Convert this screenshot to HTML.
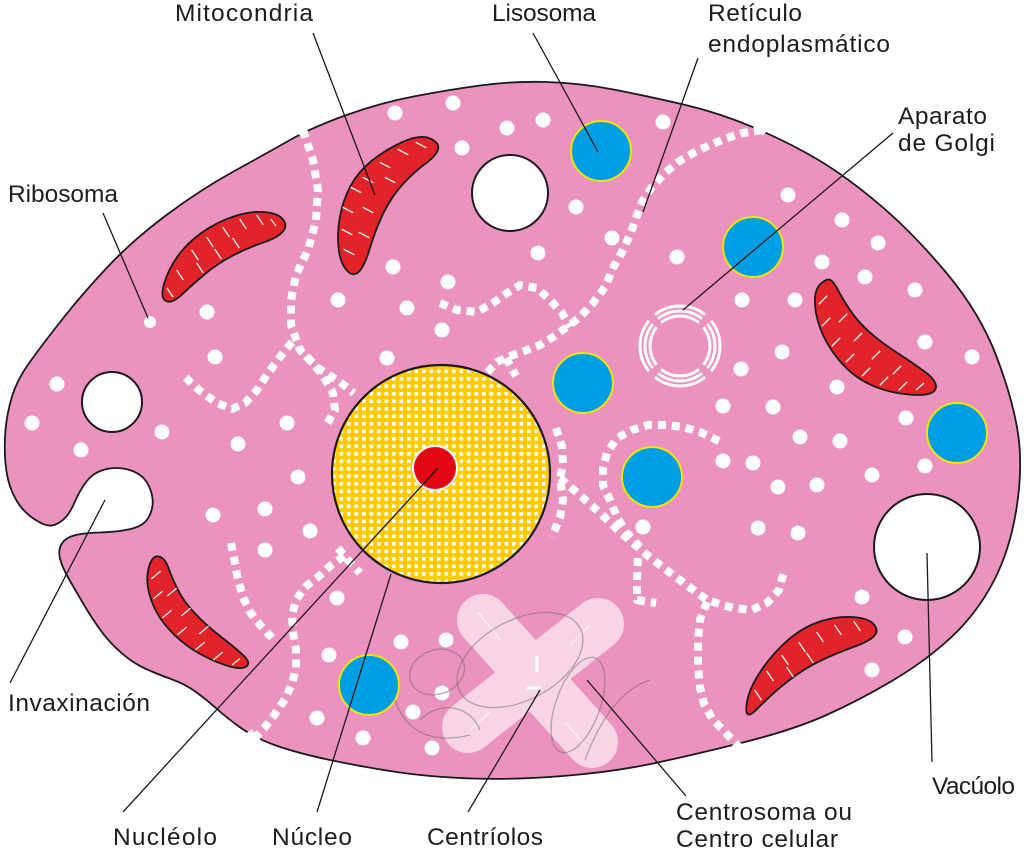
<!DOCTYPE html>
<html><head><meta charset="utf-8">
<style>html,body{margin:0;padding:0;background:#fff}svg{display:block}</style>
</head><body>
<svg width="1024" height="851" viewBox="0 0 1024 851" xmlns="http://www.w3.org/2000/svg">
<defs>
<pattern id="dots" width="7.5" height="7.5" patternUnits="userSpaceOnUse">
<rect width="7.5" height="7.5" fill="#FFCB05"/>
<rect x="2" y="2" width="3.6" height="3.6" fill="#fff"/>
</pattern>
</defs>

<!-- Cell -->
<path d="M29.5,362.5 Q42,345 62.5,319 Q83,293 108,266.5 Q133,240 166.5,215 Q200,190 233.5,171.5 Q267,153 290,140 Q313,127 346.5,115 Q380,103 413.5,96.5 Q447,90 480,85.5 Q513,81 546.5,82 Q580,83 613.5,89.5 Q647,96 683.5,104.5 Q720,113 755,128 Q790,143 818.5,160 Q847,177 880,205 Q913,233 946.5,273 Q980,313 996.5,356.5 Q1013,400 1018,433.5 Q1023,467 1016.5,508.5 Q1010,550 993.5,581.5 Q977,613 952,636.5 Q927,660 893.5,680 Q860,700 826.5,715 Q793,730 743,742.5 Q693,755 653,763.5 Q613,772 563,776 Q513,780 471.5,778.5 Q430,777 396.5,772 Q363,767 330,760 Q297,753 276,745.5 Q255,738 241,728 Q227,718 217,709 Q207,700 196,692 Q185,684 171,679 Q157,674 145,668.5 Q133,663 121.5,653 Q110,643 101.5,631.5 Q93,620 85,606.5 Q77,593 69.5,580 Q62,567 60,558.5 Q58,550 61.5,544 Q65,538 74,535.5 Q83,533 100,532.5 Q117,532 128.5,529.5 Q140,527 145,522 Q150,517 152,508.5 Q154,500 150.5,490 Q147,480 140,475 Q133,470 123,468.5 Q113,467 103,470 Q93,473 86.5,481.5 Q80,490 75,501.5 Q70,513 65,518 Q60,523 54,525 Q48,527 39,522 Q30,517 23.5,510 Q17,503 12,491.5 Q7,480 5.5,463.5 Q4,447 5.5,430 Q7,413 12,396.5 Q17,380 29.5,362.5 Z" fill="#EC92BE" stroke="#1a1a1a" stroke-width="1.8"/>

<!-- membrane gaps -->
<g stroke="#fff" stroke-width="9" fill="none">
<path d="M298,121 L304,134"/>
<path d="M756,124 L766,132"/>
<path d="M248,732 L258,744"/>
</g>

<!-- Endoplasmic reticulum -->
<g fill="none" stroke="#fff" stroke-width="8" stroke-dasharray="8 6" stroke-linejoin="round">
<path d="M303,130 L313,160 L318,190 L316,220 L308,250 L296,275 L291,300 L291,325 L300,350 L318,368 L340,382 L354,393"/>
<path d="M306,356 L322,374 L333,393 L335,410 L327,424"/>
<path d="M292,342 L280,357 L268,373 L257,390 L245,403 L232,409 L217,403 L200,391 L185,377"/>
<path d="M762,130 L743,133 L727,138 L710,145 L693,153 L678,162 L665,173 L652,187 L642,202 L636,218 L630,235 L622,252 L613,268 L605,287 L593,303 L580,317 L567,327 L553,337 L540,345 L527,350 L510,356 L497,362 L486,374"/>
<path d="M506,358 L516,376"/>
<path d="M440,303 L457,310 L477,312 L493,303 L507,293 L520,285 L537,288 L550,300 L562,313 L570,327"/>
<path d="M556,428 L562,447 L563,465 L560,478 L563,500 L560,517 L552,537"/>
<path d="M560,478 L582,497 L600,513 L620,532 L647,555 L673,575 L688,586 L707,600 L733,608 L752,610 L767,603 L779,590 L784,571"/>
<path d="M719,441 L700,432 L683,427 L667,425 L648,425 L632,430 L617,438 L607,453 L603,468 L603,485 L610,500 L617,517 L627,533 L640,547"/>
<path d="M638,558 L637,578 L637,600 L656,603"/>
<path d="M707,602 L700,620 L698,640 L698,667 L700,687 L704,704 L713,720 L724,731 L740,748"/>
<path d="M231,543 L235,563 L238,580 L243,597 L250,612 L260,625 L273,639"/>
<path d="M338,548 L348,560 L360,573"/>
<path d="M344,556 L330,566 L318,577 L305,587 L296,600 L292,615 L293,632 L296,650 L296,668 L292,684 L285,699 L275,714 L265,727 L255,738"/>
</g>

<!-- Ribosomes -->
<g fill="#fff">
<circle cx="150" cy="322" r="6"/>
<circle cx="207" cy="312" r="7.5"/><circle cx="215" cy="357" r="7.5"/><circle cx="338" cy="300" r="7.5"/>
<circle cx="387" cy="358" r="7.5"/><circle cx="57" cy="384" r="7.5"/><circle cx="32" cy="423" r="7.5"/>
<circle cx="162" cy="432" r="7.5"/><circle cx="287" cy="423" r="7.5"/><circle cx="393" cy="267" r="7.5"/>
<circle cx="395" cy="113" r="7.5"/><circle cx="238" cy="444" r="7.5"/><circle cx="81" cy="450" r="7.5"/>
<circle cx="298" cy="477" r="7.5"/><circle cx="213" cy="515" r="7.5"/><circle cx="265" cy="509" r="7.5"/>
<circle cx="310" cy="531" r="7.5"/><circle cx="265" cy="550" r="7.5"/><circle cx="337" cy="598" r="7.5"/>
<circle cx="329" cy="655" r="7.5"/><circle cx="317" cy="718" r="7.5"/><circle cx="401" cy="642" r="7.5"/>
<circle cx="446" cy="640" r="7.5"/><circle cx="442" cy="693" r="7.5"/><circle cx="413" cy="712" r="7.5"/>
<circle cx="363" cy="738" r="7.5"/><circle cx="432" cy="748" r="7.5"/><circle cx="453" cy="103" r="7.5"/>
<circle cx="507" cy="128" r="7.5"/><circle cx="543" cy="120" r="7.5"/><circle cx="462" cy="148" r="7.5"/>
<circle cx="663" cy="122" r="7.5"/><circle cx="576" cy="207" r="7.5"/><circle cx="612" cy="238" r="7.5"/>
<circle cx="538" cy="253" r="7.5"/><circle cx="677" cy="257" r="7.5"/><circle cx="448" cy="282" r="7.5"/>
<circle cx="407" cy="308" r="7.5"/><circle cx="442" cy="330" r="7.5"/><circle cx="788" cy="195" r="7.5"/>
<circle cx="842" cy="220" r="7.5"/><circle cx="878" cy="243" r="7.5"/><circle cx="822" cy="262" r="7.5"/>
<circle cx="865" cy="277" r="7.5"/><circle cx="915" cy="290" r="7.5"/><circle cx="742" cy="300" r="7.5"/>
<circle cx="795" cy="300" r="7.5"/><circle cx="925" cy="342" r="7.5"/><circle cx="972" cy="357" r="7.5"/>
<circle cx="782" cy="352" r="7.5"/><circle cx="741" cy="369" r="7.5"/><circle cx="837" cy="387" r="7.5"/>
<circle cx="723" cy="406" r="7.5"/><circle cx="773" cy="407" r="7.5"/><circle cx="906" cy="418" r="7.5"/>
<circle cx="800" cy="437" r="7.5"/><circle cx="840" cy="441" r="7.5"/><circle cx="723" cy="461" r="7.5"/>
<circle cx="753" cy="463" r="7.5"/><circle cx="925" cy="466" r="7.5"/><circle cx="778" cy="487" r="7.5"/>
<circle cx="817" cy="485" r="7.5"/><circle cx="872" cy="475" r="7.5"/><circle cx="643" cy="527" r="7.5"/>
<circle cx="758" cy="528" r="7.5"/><circle cx="798" cy="533" r="7.5"/><circle cx="862" cy="597" r="7.5"/>
<circle cx="905" cy="637" r="7.5"/><circle cx="872" cy="670" r="7.5"/>
</g>

<!-- Vacuoles -->
<g fill="#fff" stroke="#1a1a1a" stroke-width="2">
<circle cx="510" cy="193" r="38"/>
<circle cx="112" cy="402" r="30"/>
<circle cx="927" cy="547" r="53"/>
</g>

<!-- Lysosomes -->
<g fill="#009FE3" stroke="#F2E500" stroke-width="2">
<circle cx="601" cy="151" r="30"/>
<circle cx="753" cy="247" r="30"/>
<circle cx="583" cy="383" r="30"/>
<circle cx="652" cy="477" r="30"/>
<circle cx="957" cy="433" r="30"/>
<circle cx="369" cy="685" r="30"/>
</g>

<!-- Mitochondria -->
<g fill="#E2232A" stroke="#1a1a1a" stroke-width="1.8">
<path d="M164,284 Q168,270 177.5,256.5 Q187,243 202,232.5 Q217,222 233.5,216.5 Q250,211 264,212 Q278,213 283,219.5 Q288,226 282.5,232 Q277,238 262,243 Q247,248 232,256 Q217,264 205,274 Q193,284 182.5,294 Q172,304 166,301 Q160,298 164,284 Z"/>
<path d="M430,138.5 Q420,134 402.5,142 Q385,150 371.5,161 Q358,172 350.5,186 Q343,200 340,216.5 Q337,233 338.5,247.5 Q340,262 346,269.5 Q352,277 358,272.5 Q364,268 370,248 Q376,228 384,212 Q392,196 403,184 Q414,172 425,164 Q436,156 438,149.5 Q440,143 430,138.5 Z"/>
<path d="M820.5,284 Q814,290 815,305 Q816,320 823,335 Q830,350 841,362.5 Q852,375 866,382.5 Q880,390 897.5,393 Q915,396 925.5,394.5 Q936,393 936,386.5 Q936,380 924.5,371.5 Q913,363 897.5,353 Q882,343 870,332.5 Q858,322 850,310 Q842,298 838,290 Q834,282 830.5,280 Q827,278 820.5,284 Z"/>
<path d="M149.5,565 Q146,575 148,587.5 Q150,600 156.5,612 Q163,624 175,635.5 Q187,647 202,655 Q217,663 230,666.5 Q243,670 247,666 Q251,662 242,654 Q233,646 220,636 Q207,626 195.5,614 Q184,602 178,590 Q172,578 168.5,568 Q165,558 159,556.5 Q153,555 149.5,565 Z"/>
<path d="M747.5,699.5 Q750,687 761.5,670 Q773,653 788,640 Q803,627 820,621.5 Q837,616 852.5,617 Q868,618 873.5,624 Q879,630 874.5,635.5 Q870,641 853.5,647 Q837,653 822,660 Q807,667 793.5,677 Q780,687 770,696.5 Q760,706 755,711 Q750,716 747.5,714 Q745,712 747.5,699.5 Z"/>
</g>
<g stroke="#FFEDE6" stroke-width="1.4" fill="none">
<path d="M176.7,270 L183.3,280 M191.7,250 L198.3,260 M206.7,237 L213.3,247 M222.7,227 L229.3,237 M239.7,219 L246.3,229 M256.7,215 L263.3,225 M270.7,219 L276,226 M196.7,263 L203.3,273 M214.7,249 L221.3,259 M232.7,238 L239.3,248 M167,288 L173,297"/>
<path d="M350.7,187.2 L361.3,192.8 M342.7,207.2 L353.3,212.8 M341.7,229.2 L352.3,234.8 M343.7,249.2 L354.3,254.8 M362.7,177.2 L373.3,182.8 M379.7,162.2 L390.3,167.8 M397.7,149.2 L408.3,154.8 M415.7,142.2 L426.3,147.8 M362.7,207.2 L373.3,212.8 M358.7,232.2 L369.3,237.8 M384.7,177.2 L395.3,182.8"/>
<path d="M818.8,304.2 L827.2,295.8 M821.8,326.2 L830.2,317.8 M831.8,346.2 L840.2,337.8 M845.8,362.2 L854.2,353.8 M861.8,376.2 L870.2,367.8 M879.8,385.2 L888.2,376.8 M898.8,390.2 L907.2,381.8 M916,390 L924,383 M838.8,322.2 L847.2,313.8 M853.8,341.2 L862.2,332.8 M871.8,359.2 L880.2,350.8 M892.8,374.2 L901.2,365.8"/>
<path d="M151.4,578.9 L160.6,571.1 M153.4,598.9 L162.6,591.1 M162.4,617.9 L171.6,610.1 M177.4,634.9 L186.6,627.1 M195.4,649.9 L204.6,642.1 M213.4,659.9 L222.6,652.1 M232,665 L240,658.5 M167.4,595.9 L176.6,588.1 M181.4,615.9 L190.6,608.1 M199.4,633.9 L208.6,626.1"/>
<path d="M754.6,690 L761.4,700 M766.6,671 L773.4,681 M781.6,655 L788.4,665 M798.6,642 L805.4,652 M816.6,632 L823.4,642 M834.6,625 L841.4,635 M853.6,621 L860.4,631 M786.6,667 L793.4,677 M806.6,653 L813.4,663"/>
</g>

<!-- Nucleus -->
<circle cx="441" cy="474" r="109" fill="url(#dots)" stroke="#1a1a1a" stroke-width="2.2"/>
<circle cx="435" cy="468" r="22" fill="#E30613" stroke="#fff" stroke-width="2"/>

<!-- Golgi -->
<g fill="none" stroke="#fff" stroke-width="3">
<circle cx="680" cy="346" r="30" pathLength="360" stroke-dasharray="78 12" stroke-dashoffset="39"/>
<circle cx="680" cy="346" r="35" pathLength="360" stroke-dasharray="78 12" stroke-dashoffset="39"/>
<circle cx="680" cy="346" r="40" pathLength="360" stroke-dasharray="78 12" stroke-dashoffset="39"/>
</g>

<!-- Centrosome -->
<path d="M483,620 L592,742 M598,624 L468,727" stroke="#F8D5E5" stroke-width="52" stroke-linecap="round" fill="none"/>
<path d="M537,656 V672 M527,688 H541" stroke="#fff" stroke-width="3" fill="none"/>
<g fill="none" stroke="#fff" stroke-opacity="0.7" stroke-width="1.2">
<path d="M478,612 L500,640 M590,625 L570,645 M470,730 L490,712 M585,745 L565,722"/>
</g>
<g fill="none" stroke="#6b6b6b" stroke-opacity="0.5" stroke-width="1.3">
<ellipse cx="437" cy="672" rx="28" ry="22" transform="rotate(-20 437 672)"/>
<ellipse cx="520" cy="660" rx="68" ry="40" transform="rotate(-28 520 660)"/>
<ellipse cx="578" cy="705" rx="22" ry="50" transform="rotate(20 578 705)"/>
<path d="M585,760 C600,720 620,690 650,680"/>
<path d="M395,700 C405,730 430,745 470,735"/>
<path d="M420,720 C440,700 470,705 480,730"/>
</g>

<!-- Connector lines -->
<g stroke="#1a1a1a" stroke-width="1.3" fill="none">
<path d="M313,33 L375,195"/>
<path d="M533,33 L598,152"/>
<path d="M698,58 L643,212"/>
<path d="M893,133 L683,310"/>
<path d="M103,213 L148,318"/>
<path d="M105,500 L10,683"/>
<path d="M438,468 L123,812"/>
<path d="M391,574 L317,812"/>
<path d="M540,690 L468,812"/>
<path d="M587,680 L686,796"/>
<path d="M927,553 L932,762"/>
</g>

<!-- Labels -->
<g font-family="'Liberation Sans', Arial, sans-serif" font-size="24.5" fill="#1d1d1b">
<text x="175" y="21" textLength="138" lengthAdjust="spacing">Mitocondria</text>
<text x="492" y="21" textLength="104" lengthAdjust="spacing">Lisosoma</text>
<text x="708" y="21" textLength="94" lengthAdjust="spacing">Retículo</text>
<text x="708" y="52" textLength="182" lengthAdjust="spacing">endoplasmático</text>
<text x="898" y="124" textLength="89" lengthAdjust="spacing">Aparato</text>
<text x="898" y="151" textLength="97" lengthAdjust="spacing">de Golgi</text>
<text x="8" y="202" textLength="110" lengthAdjust="spacing">Ribosoma</text>
<text x="8" y="711" textLength="142" lengthAdjust="spacing">Invaxinación</text>
<text x="113" y="845" textLength="104" lengthAdjust="spacing">Nucléolo</text>
<text x="272" y="845" textLength="80" lengthAdjust="spacing">Núcleo</text>
<text x="427" y="845" textLength="116" lengthAdjust="spacing">Centríolos</text>
<text x="676" y="820" textLength="176" lengthAdjust="spacing">Centrosoma ou</text>
<text x="676" y="847" textLength="162" lengthAdjust="spacing">Centro celular</text>
<text x="932" y="794" textLength="83" lengthAdjust="spacing">Vacúolo</text>
</g>
</svg>
</body></html>
